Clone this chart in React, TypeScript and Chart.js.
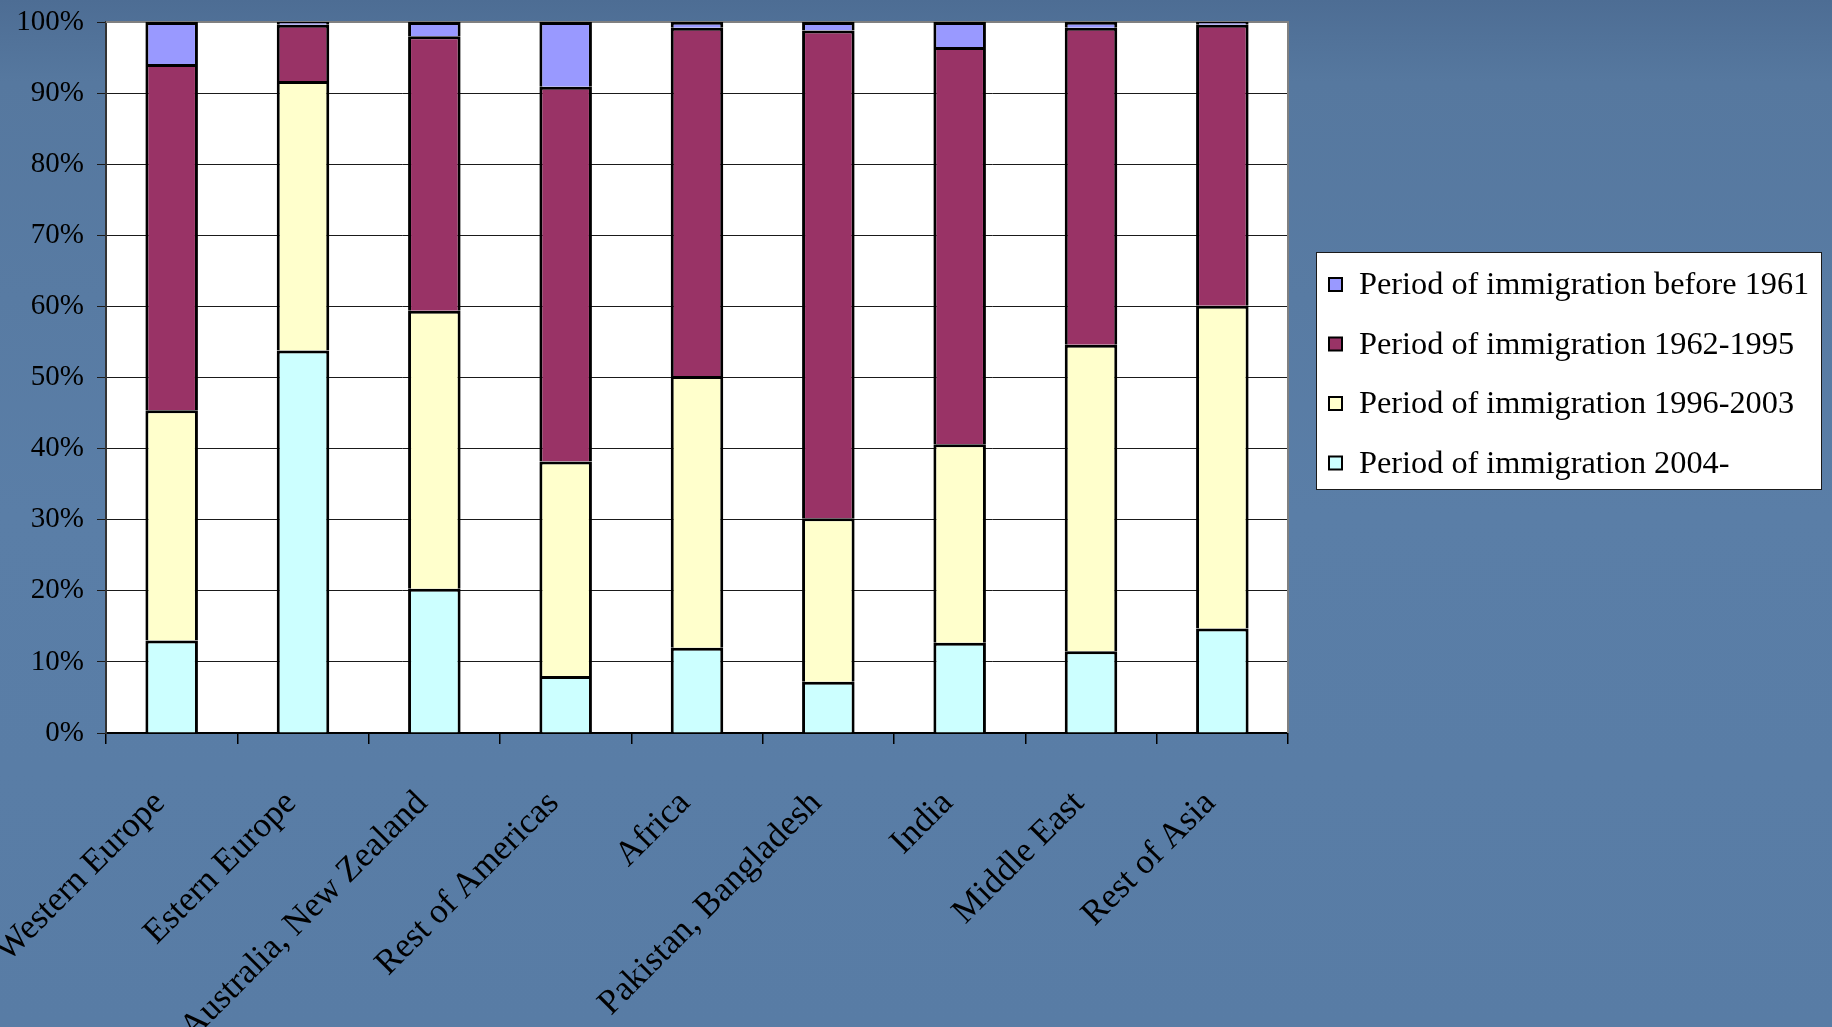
import { useEffect, useRef } from "react";
import { Chart, registerables } from "chart.js";

Chart.register(...registerables);

// Share of immigrants by region of origin and period of arrival (percent)
const regions = [
  "Western Europe",
  "Estern Europe",
  "Australia, New Zealand",
  "Rest of Americas",
  "Africa",
  "Pakistan, Bangladesh",
  "India",
  "Middle East",
  "Rest of Asia",
];

const since2004 = [13.0, 53.8, 20.3, 8.0, 12.0, 7.2, 12.7, 11.5, 14.7];
const from1996to2003 = [32.4, 37.9, 39.1, 30.2, 38.2, 23.0, 27.9, 43.1, 45.4];
const from1962to1995 = [48.7, 7.9, 38.6, 52.7, 49.0, 68.6, 55.9, 44.6, 39.5];
const before1961 = [5.9, 0.4, 2.0, 9.1, 0.8, 1.2, 3.5, 0.8, 0.4];

const seriesLabels = [
  "Period of immigration 2004-",
  "Period of immigration 1996-2003",
  "Period of immigration 1962-1995",
  "Period of immigration before 1961",
];
const seriesColors = ["#CCFFFF", "#FFFFCC", "#993366", "#9999FF"];

const yMin = 0;
const yMax = 100;
const yStep = 10;

const SERIF = '"Liberation Serif", "Times New Roman", serif';
const W = 1832;
const H = 1027;

// Slide background, white plot area and the gray frame on top / right
const backdropPlugin = {
  id: "backdrop",
  beforeDraw(chart: any) {
    const { ctx, chartArea } = chart;
    ctx.save();
    const g = ctx.createLinearGradient(0, 0, 0, H);
    g.addColorStop(0, "#4d6d94");
    g.addColorStop(0.08, "#56789f");
    g.addColorStop(0.5, "#5a7ea7");
    g.addColorStop(1, "#587ca5");
    ctx.fillStyle = g;
    ctx.fillRect(0, 0, W, H);
    ctx.fillStyle = "#ffffff";
    ctx.fillRect(
      chartArea.left,
      chartArea.top,
      chartArea.right - chartArea.left,
      chartArea.bottom - chartArea.top
    );
    ctx.restore();
  },
  beforeDatasetsDraw(chart: any) {
    const { ctx, chartArea } = chart;
    ctx.save();
    ctx.strokeStyle = "#808080";
    ctx.lineWidth = 2;
    ctx.beginPath();
    ctx.moveTo(chartArea.left, chartArea.top);
    ctx.lineTo(chartArea.right, chartArea.top);
    ctx.lineTo(chartArea.right, chartArea.bottom);
    ctx.stroke();
    ctx.restore();
  },
};

// Boxed legend to the right of the plot, newest period at the bottom
const boxLegendPlugin = {
  id: "boxLegend",
  afterDraw(chart: any) {
    const { ctx } = chart;
    const datasets = chart.data.datasets;
    const box = { x: 1316.5, y: 252.5, w: 505, h: 237 };
    ctx.save();
    ctx.fillStyle = "#ffffff";
    ctx.fillRect(box.x, box.y, box.w, box.h);
    ctx.strokeStyle = "#1a1a1a";
    ctx.lineWidth = 1;
    ctx.strokeRect(box.x, box.y, box.w, box.h);
    ctx.font = `32.3px ${SERIF}`;
    ctx.textBaseline = "middle";
    ctx.textAlign = "left";
    const rowStart = 285;
    const rowGap = 59.5;
    for (let i = 0; i < datasets.length; i++) {
      const ds = datasets[datasets.length - 1 - i];
      const cy = rowStart + i * rowGap;
      ctx.fillStyle = ds.backgroundColor;
      ctx.fillRect(1329, cy - 7, 13, 13);
      ctx.strokeStyle = "#000000";
      ctx.lineWidth = 2;
      ctx.strokeRect(1329, cy - 7, 13, 13);
      ctx.fillStyle = "#000000";
      ctx.fillText(ds.label, 1359, cy + 1);
    }
    ctx.restore();
  },
};

export default function App() {
  const canvasRef = useRef<HTMLCanvasElement | null>(null);

  useEffect(() => {
    const canvas = canvasRef.current;
    if (!canvas) return;
    const values = [since2004, from1996to2003, from1962to1995, before1961];
    const chart = new Chart(canvas, {
      type: "bar",
      data: {
        labels: regions,
        datasets: values.map((data, i) => ({
          label: seriesLabels[i],
          data,
          backgroundColor: seriesColors[i],
          borderColor: "#000000",
          borderWidth: 3,
          borderSkipped: "start",
          barPercentage: 0.4,
          categoryPercentage: 1,
        })),
      },
      options: {
        responsive: false,
        animation: false,
        devicePixelRatio: 1,
        layout: { padding: { top: 22, right: W - 1288, left: 0, bottom: 0 } },
        plugins: {
          legend: { display: false },
          tooltip: { enabled: false },
        },
        scales: {
          x: {
            stacked: true,
            offset: true,
            border: { display: true, color: "#000000", width: 2 },
            grid: {
              display: true,
              offset: true,
              drawOnChartArea: false,
              drawTicks: true,
              tickLength: 11,
              color: "#000000",
              lineWidth: 1.5,
            },
            ticks: {
              autoSkip: false,
              minRotation: 45,
              maxRotation: 45,
              padding: 39,
              labelOffset: -12,
              color: "#000000",
              font: { family: SERIF, size: 35 },
            },
            afterFit(scale: any) {
              scale.height = H - 733;
              scale.paddingLeft = 0;
              scale.paddingRight = 0;
            },
          },
          y: {
            stacked: true,
            min: yMin,
            max: yMax,
            border: { display: true, color: "#333333", width: 2 },
            grid: {
              color: "#1a1a1a",
              lineWidth: 1,
              drawTicks: true,
              tickLength: 9,
            },
            ticks: {
              stepSize: yStep,
              padding: 13,
              color: "#000000",
              font: { family: SERIF, size: 29 },
              callback: (v: any) => `${v}%`,
            },
            afterFit(scale: any) {
              scale.width = 106;
              scale.paddingTop = 0;
              scale.paddingBottom = 0;
            },
          },
        },
      },
      plugins: [backdropPlugin, boxLegendPlugin],
    });
    return () => chart.destroy();
  }, []);

  return (
    <div style={{ position: "absolute", left: 0, top: 0, width: W, height: H, overflow: "hidden" }}>
      <canvas ref={canvasRef} width={W} height={H} style={{ display: "block", width: W, height: H }} />
    </div>
  );
}
